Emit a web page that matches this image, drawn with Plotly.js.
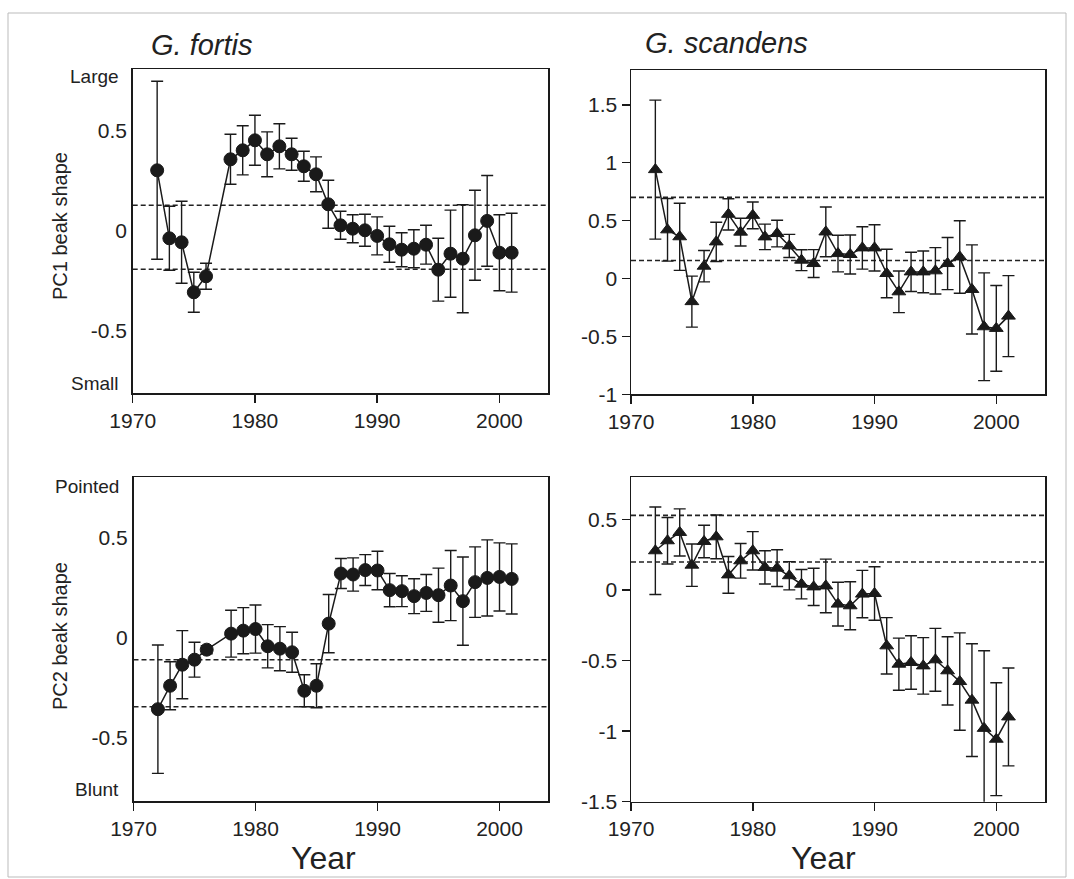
<!DOCTYPE html>
<html>
<head>
<meta charset="utf-8">
<script src="https://cdn.plot.ly/plotly-3.0.1.min.js"></script>
<style>
  html, body { margin: 0; padding: 0; background: #ffffff; }
  #chart { width: 1074px; height: 879px; }
</style>
</head>
<body>
<div id="chart"></div>
<script>
// ---------------- data ----------------
const fortisYears = [1972, 1973, 1974, 1975, 1976, 1978, 1979, 1980, 1981, 1982, 1983, 1984, 1985, 1986, 1987,
                     1988, 1989, 1990, 1991, 1992, 1993, 1994, 1995, 1996, 1997, 1998, 1999, 2000, 2001];
const fortisPC1 = [0.30, -0.04, -0.06, -0.31, -0.23, 0.355, 0.40, 0.45, 0.38, 0.42, 0.38, 0.32, 0.28, 0.13, 0.025,
                   0.008, 0.0, -0.028, -0.07, -0.097, -0.092, -0.072, -0.197, -0.117, -0.142, -0.025, 0.047, -0.112, -0.112];
const fortisPC1Err = [0.445, 0.16, 0.205, 0.10, 0.065, 0.125, 0.123, 0.125, 0.112, 0.113, 0.08, 0.075, 0.087, 0.12, 0.07,
                      0.07, 0.08, 0.095, 0.09, 0.085, 0.095, 0.097, 0.157, 0.218, 0.27, 0.225, 0.227, 0.19, 0.197];
const fortisPC2 = [-0.357, -0.24, -0.135, -0.11, -0.06, 0.02, 0.035, 0.043, -0.043, -0.055, -0.073, -0.265, -0.24, 0.07, 0.32,
                   0.315, 0.337, 0.335, 0.237, 0.232, 0.207, 0.223, 0.212, 0.26, 0.182, 0.277, 0.298, 0.303, 0.293];
const fortisPC2Err = [0.32, 0.12, 0.17, 0.087, 0.02, 0.117, 0.115, 0.12, 0.108, 0.11, 0.10, 0.08, 0.11, 0.145, 0.075,
                      0.083, 0.077, 0.096, 0.083, 0.077, 0.087, 0.092, 0.135, 0.175, 0.22, 0.176, 0.19, 0.17, 0.175];

const scandensYears = [1972, 1973, 1974, 1975, 1976, 1977, 1978, 1979, 1980, 1981, 1982, 1983, 1984, 1985, 1986,
                       1987, 1988, 1989, 1990, 1991, 1992, 1993, 1994, 1995, 1996, 1997, 1998, 1999, 2000, 2001];
const scandensPC1 = [0.94, 0.42, 0.36, -0.20, 0.106, 0.316, 0.554, 0.40, 0.545, 0.359, 0.388, 0.281, 0.158, 0.129, 0.402,
                     0.215, 0.207, 0.264, 0.264, 0.043, -0.115, 0.057, 0.057, 0.066, 0.129, 0.186, -0.095, -0.417, -0.431, -0.325];
const scandensPC1Err = [0.60, 0.27, 0.29, 0.22, 0.135, 0.17, 0.135, 0.12, 0.115, 0.11, 0.115, 0.10, 0.09, 0.12, 0.215,
                        0.158, 0.168, 0.183, 0.20, 0.21, 0.18, 0.17, 0.18, 0.20, 0.225, 0.313, 0.385, 0.465, 0.37, 0.35];
const scandensPC2 = [0.279, 0.35, 0.409, 0.177, 0.345, 0.378, 0.108, 0.208, 0.279, 0.161, 0.156, 0.102, 0.042, 0.023, 0.030,
                     -0.099, -0.111, -0.028, -0.024, -0.395, -0.525, -0.513, -0.537, -0.494, -0.572, -0.648, -0.78, -0.98, -1.057, -0.899];
const scandensPC2Err = [0.31, 0.165, 0.167, 0.15, 0.115, 0.155, 0.13, 0.123, 0.136, 0.118, 0.13, 0.10, 0.104, 0.132, 0.19,
                        0.155, 0.17, 0.168, 0.19, 0.20, 0.185, 0.19, 0.20, 0.223, 0.242, 0.345, 0.40, 0.55, 0.40, 0.347];

// dashed reference levels
const fortisPC1Bounds = [0.125, -0.195];
const fortisPC2Bounds = [-0.11, -0.345];
const scandensPC1Bounds = [0.70, 0.155];
const scandensPC2Bounds = [0.53, 0.20];

// ticks
const yearTicks = [1970, 1980, 1990, 2000];
const yearTickText = ['1970', '1980', '1990', '2000'];
const fortisTicks = [-0.5, 0, 0.5];
const fortisTickText = ['-0.5', '0', '0.5'];
const scandensPC1Ticks = [-1, -0.5, 0, 0.5, 1, 1.5];
const scandensPC1TickText = ['-1', '-0.5', '0', '0.5', '1', '1.5'];
const scandensPC2Ticks = [-1.5, -1, -0.5, 0, 0.5];
const scandensPC2TickText = ['-1.5', '-1', '-0.5', '0', '0.5'];

const panelTitles = ['G. fortis', 'G. scandens'];
const yTitles = ['PC1 beak shape', 'PC2 beak shape'];
const pc1Ends = ['Large', 'Small'];
const pc2Ends = ['Pointed', 'Blunt'];
const xTitle = 'Year';

// ---------------- styling ----------------
const INK = '#1a1a1a';
const FONT = 'Liberation Sans, Arial, Helvetica, sans-serif';

function series(x, y, err, xa, ya, symbol, size) {
  return {
    type: 'scatter', mode: 'lines+markers', x: x, y: y, xaxis: xa, yaxis: ya,
    line: { color: INK, width: 1.5 },
    marker: { symbol: symbol, size: size, color: INK, line: { color: INK, width: 1 } },
    error_y: { type: 'data', array: err, visible: true, color: INK, thickness: 1.4, width: 6 },
    hoverinfo: 'x+y'
  };
}

const traces = [
  series(fortisYears, fortisPC1, fortisPC1Err, 'x', 'y', 'circle', 13),
  series(scandensYears, scandensPC1, scandensPC1Err, 'x2', 'y2', 'triangle-up', 12),
  series(fortisYears, fortisPC2, fortisPC2Err, 'x3', 'y3', 'circle', 13),
  series(scandensYears, scandensPC2, scandensPC2Err, 'x4', 'y4', 'triangle-up', 12)
];

function xAxis(domain, anchor) {
  return {
    domain: domain, anchor: anchor, range: [1970, 2004],
    tickmode: 'array', tickvals: yearTicks, ticktext: yearTickText,
    ticks: 'outside', ticklen: 8, tickwidth: 1.5, tickcolor: INK,
    showline: true, mirror: true, linecolor: INK, linewidth: 1.5,
    showgrid: false, zeroline: false,
    tickfont: { family: FONT, size: 21, color: '#222' }
  };
}
function yAxis(domain, anchor, range, vals, text, ticklen) {
  return {
    domain: domain, anchor: anchor, range: range,
    tickmode: 'array', tickvals: vals, ticktext: text,
    ticks: ticklen > 0 ? 'outside' : '', ticklen: ticklen, tickwidth: 1.5, tickcolor: INK,
    showline: true, mirror: true, linecolor: INK, linewidth: 1.5,
    showgrid: false, zeroline: false,
    tickfont: { family: FONT, size: 21, color: '#222' }
  };
}

function dashed(xref, yref, vals) {
  return vals.map(v => ({
    type: 'line', xref: xref + ' domain', yref: yref, x0: 0, x1: 1, y0: v, y1: v,
    line: { color: '#222', width: 1.6, dash: '5px,3px' }, layer: 'below'
  }));
}

const shapes = [].concat(
  dashed('x', 'y', fortisPC1Bounds),
  dashed('x2', 'y2', scandensPC1Bounds),
  dashed('x3', 'y3', fortisPC2Bounds),
  dashed('x4', 'y4', scandensPC2Bounds),
  [{ type: 'rect', xref: 'paper', yref: 'paper', x0: 8 / 1074, x1: 1066 / 1074, y0: 1 - 877 / 879, y1: 1 - 13 / 879,
     line: { color: '#bbbbbb', width: 1 }, fillcolor: 'rgba(0,0,0,0)', layer: 'below' }]
);

function txt(text, x, y, opts) {
  return Object.assign({
    text: text, x: x, y: y, xref: 'paper', yref: 'paper', showarrow: false,
    xanchor: 'center', yanchor: 'middle',
    font: { family: FONT, size: 20, color: '#222' }
  }, opts || {});
}

const annotations = [
  txt('<i>' + panelTitles[0] + '</i>', 202 / 1074, 1 - 45 / 879, { font: { family: FONT, size: 29, color: '#222' } }),
  txt('<i>' + panelTitles[1] + '</i>', 726 / 1074, 1 - 43 / 879, { font: { family: FONT, size: 29, color: '#222' } }),
  txt(yTitles[0], 60 / 1074, 1 - 226 / 879, { textangle: -90 }),
  txt(yTitles[1], 60 / 1074, 1 - 636 / 879, { textangle: -90 }),
  txt(pc1Ends[0], 121 / 1074, 0.767, { yref: 'y', xanchor: 'right', font: { family: FONT, size: 19, color: '#222' } }),
  txt(pc1Ends[1], 121 / 1074, -0.767, { yref: 'y', xanchor: 'right', font: { family: FONT, size: 19, color: '#222' } }),
  txt(pc2Ends[0], 121 / 1074, 0.755, { yref: 'y3', xanchor: 'right', font: { family: FONT, size: 19, color: '#222' } }),
  txt(pc2Ends[1], 121 / 1074, -0.76, { yref: 'y3', xanchor: 'right', font: { family: FONT, size: 19, color: '#222' } }),
  txt(xTitle, 323 / 1074, 1 - 858 / 879, { font: { family: FONT, size: 32, color: '#222' } }),
  txt(xTitle, 823 / 1074, 1 - 858 / 879, { font: { family: FONT, size: 32, color: '#222' } })
];

const layout = {
  width: 1074, height: 879,
  margin: { l: 0, r: 0, t: 0, b: 0 },
  paper_bgcolor: '#ffffff', plot_bgcolor: '#ffffff',
  showlegend: false,
  font: { family: FONT, color: '#222' },
  xaxis: xAxis([132.7 / 1074, 548.3 / 1074], 'y'),
  yaxis: yAxis([1 - 393.3 / 879, 1 - 69.3 / 879], 'x', [-0.815, 0.805], fortisTicks, fortisTickText, 0),
  xaxis2: xAxis([631 / 1074, 1045 / 1074], 'y2'),
  yaxis2: yAxis([1 - 394.3 / 879, 1 - 70 / 879], 'x2', [-1, 1.8], scandensPC1Ticks, scandensPC1TickText, 8),
  xaxis3: xAxis([133.5 / 1074, 548.3 / 1074], 'y3'),
  yaxis3: yAxis([1 - 801 / 879, 1 - 477.3 / 879], 'x3', [-0.815, 0.80], fortisTicks, fortisTickText, 0),
  xaxis4: xAxis([631 / 1074, 1045 / 1074], 'y4'),
  yaxis4: yAxis([1 - 801.7 / 879, 1 - 477.3 / 879], 'x4', [-1.5, 0.8], scandensPC2Ticks, scandensPC2TickText, 8),
  shapes: shapes,
  annotations: annotations
};

Plotly.newPlot('chart', traces, layout, { staticPlot: true, displayModeBar: false });
</script>
</body>
</html>
